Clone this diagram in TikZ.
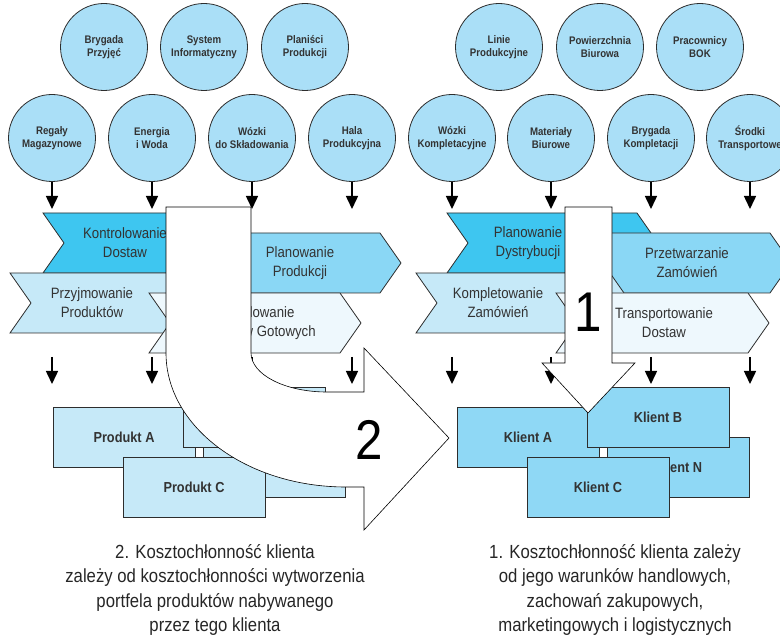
\documentclass[tikz,border=0pt]{standalone}
\usepackage{fontspec}
\setmainfont{Liberation Sans}[FakeStretch=0.88]
\usepackage{tikz}
\usetikzlibrary{arrows.meta, positioning}
\definecolor{resfill}{RGB}{170, 223, 247}
\definecolor{outline}{RGB}{45, 45, 45}
\definecolor{chevdark}{RGB}{62, 198, 240}
\definecolor{chevmid}{RGB}{138, 215, 245}
\definecolor{chevlight}{RGB}{198, 233, 248}
\definecolor{chevpale}{RGB}{238, 248, 253}
\definecolor{clientfill}{RGB}{143, 216, 245}
\definecolor{productfill}{RGB}{198, 233, 248}
\definecolor{txt}{RGB}{51, 51, 51}
\tikzstyle{resource} = [circle, draw=outline, fill=resfill, minimum size=87pt, inner sep=0pt, align=center, text=txt, line width=0.8pt, font=\fontsize{11}{13.3}\selectfont\bfseries]
\tikzstyle{chev} = [draw=outline, line width=0.8pt]
\tikzstyle{chevlabel} = [align=center, text=txt, font=\fontsize{15}{19}\selectfont]
\tikzstyle{item} = [rectangle, draw=outline, minimum width=142pt, minimum height=60pt, inner sep=0pt, text=txt, line width=0.8pt, font=\fontsize{14.5}{17}\selectfont\bfseries]
\tikzstyle{arrow} = [line width=1.5pt, -{Triangle[width=12pt,length=13pt]}]
\tikzstyle{bigarrow} = [draw=black, fill=white, line width=0.6pt]
\tikzstyle{bignum} = [font=\fontsize{56}{60}\selectfont, text=black]
\tikzstyle{note} = [align=center, text=black!85, font=\fontsize{19}{24.5}\selectfont]

\begin{document}
\begin{tikzpicture}[x=1pt, y=-1pt]
    \clip (0,0) rectangle (780,639);

    % resources, top row
    \node[resource] (brygp) at (104,47) {Brygada\\Przyjęć};
    \node[resource] (sysinf) at (204,47) {System\\Informatyczny};
    \node[resource] (planp) at (305,47) {Planiści\\Produkcji};
    \node[resource] (linie) at (499,47) {Linie\\Produkcyjne};
    \node[resource] (powb) at (600,47) {Powierzchnia\\Biurowa};
    \node[resource] (prbok) at (700,47) {Pracownicy\\BOK};

    % resources, bottom row
    \node[resource] (regm) at (52,138) {Regały\\Magazynowe};
    \node[resource] (enw) at (152,138) {Energia\\i Woda};
    \node[resource] (wozs) at (252,138) {Wózki\\do Składowania};
    \node[resource] (halap) at (352,138) {Hala\\Produkcyjna};
    \node[resource] (wozk) at (452,138) {Wózki\\Kompletacyjne};
    \node[resource] (matb) at (551,138) {Materiały\\Biurowe};
    \node[resource] (brygk) at (651,138) {Brygada\\Kompletacji};
    \node[resource] (srtr) at (750,138) {Środki\\Transportowe};

    % resources -> activities
    \coordinate (a1) at (52,209);
    \coordinate (a2) at (152,209);
    \coordinate (a3) at (252,209);
    \coordinate (a4) at (352,209);
    \coordinate (a5) at (452,209);
    \coordinate (a6) at (551,209);
    \coordinate (a7) at (651,209);
    \coordinate (a8) at (750,209);
    \draw[arrow] (regm.south) -- (a1);
    \draw[arrow] (enw.south) -- (a2);
    \draw[arrow] (wozs.south) -- (a3);
    \draw[arrow] (halap.south) -- (a4);
    \draw[arrow] (wozk.south) -- (a5);
    \draw[arrow] (matb.south) -- (a6);
    \draw[arrow] (brygk.south) -- (a7);
    \draw[arrow] (srtr.south) -- (a8);

    % activities, left group
    \draw[chev, fill=chevdark] (43,213) -- (233,213) -- (254,243) -- (233,273) -- (43,273) -- (64,243) -- cycle;
    \node[chevlabel] (kontrol) at (125,243) {Kontrolowanie\\Dostaw};
    \draw[chev, fill=chevmid] (188,233) -- (380,233) -- (401,263) -- (380,293) -- (188,293) -- (209,263) -- cycle;
    \node[chevlabel] (planprod) at (300,263) {Planowanie\\Produkcji};
    \draw[chev, fill=chevlight] (10,273) -- (202,273) -- (223,303) -- (202,333) -- (10,333) -- (31,303) -- cycle;
    \node[chevlabel] (przyjm) at (92,303) {Przyjmowanie\\Produktów};
    \draw[chev, fill=chevpale] (149,293) -- (340,293) -- (361,323) -- (340,353) -- (149,353) -- (170,323) -- cycle;
    \node[chevlabel] (sklad) at (257,323) {Składowanie\\Wyrobów Gotowych};

    % activities, right group
    \draw[chev, fill=chevdark] (447,213) -- (637,213) -- (658,243) -- (637,273) -- (447,273) -- (468,243) -- cycle;
    \node[chevlabel] (plandyst) at (528,243) {Planowanie\\Dystrybucji};
    \draw[chev, fill=chevmid] (578,233) -- (770,233) -- (791,263) -- (770,293) -- (578,293) -- (599,263) -- cycle;
    \node[chevlabel] (przetw) at (687,263) {Przetwarzanie\\Zamówień};
    \draw[chev, fill=chevlight] (416,273) -- (610,273) -- (631,303) -- (610,333) -- (416,333) -- (437,303) -- cycle;
    \node[chevlabel] (kompl) at (498,303) {Kompletowanie\\Zamówień};
    \draw[chev, fill=chevpale] (556,293) -- (748,293) -- (769,323) -- (748,353) -- (556,353) -- (577,323) -- cycle;
    \node[chevlabel] (transp) at (664,323) {Transportowanie\\Dostaw};

    % activities -> cost objects
    \coordinate (p1) at (52,357);  \coordinate (q1) at (52,384);
    \coordinate (p2) at (152,357); \coordinate (q2) at (152,384);
    \coordinate (p3) at (252,357); \coordinate (q3) at (252,384);
    \coordinate (p4) at (352,357); \coordinate (q4) at (352,384);
    \coordinate (p5) at (452,357); \coordinate (q5) at (452,384);
    \coordinate (p6) at (551,357); \coordinate (q6) at (551,384);
    \coordinate (p7) at (651,357); \coordinate (q7) at (651,384);
    \coordinate (p8) at (750,357); \coordinate (q8) at (750,384);
    \draw[arrow] (p1) -- (q1);
    \draw[arrow] (p2) -- (q2);
    \draw[arrow] (p3) -- (q3);
    \draw[arrow] (p4) -- (q4);
    \draw[arrow] (p5) -- (q5);
    \draw[arrow] (p6) -- (q6);
    \draw[arrow] (p7) -- (q7);
    \draw[arrow] (p8) -- (q8);

    % products
    \node[item, fill=productfill] (proda) at (124,437) {Produkt A};
    \node[item, fill=productfill] (prodn) at (274,467) {Produkt N};
    \node[item, fill=productfill] (prodb) at (254,417) {Produkt B};
    \node[item, fill=productfill] (prodc) at (194,487) {Produkt C};

    % clients
    \node[item, fill=clientfill] (klia) at (528,437) {Klient A};
    \node[item, fill=clientfill] (klin) at (678,467) {Klient N};
    \node[item, fill=clientfill] (klib) at (658,417) {Klient B};
    \node[item, fill=clientfill] (klic) at (598,487) {Klient C};

    % big arrows
    \draw[bigarrow] (166,207) -- (251,207) -- (251,353)
        arc[start angle=180, end angle=270, x radius=76pt, y radius=39pt]
        -- (364,392) -- (364,348) -- (449,438) -- (364,530) -- (364,487) -- (346,487)
        arc[start angle=270, end angle=180, x radius=180pt, y radius=134pt] -- cycle;
    \node[bignum] (num2) at (369,440) {2};
    \draw[bigarrow] (565,207) -- (612,207) -- (612,363) -- (635,363) -- (588,413) -- (542,363) -- (565,363) -- cycle;
    \node[bignum] (num1) at (588,312) {1};

    % notes
    \node[note] (note2) at (215,590) {2. Kosztochłonność klienta\\zależy od kosztochłonności wytworzenia\\portfela produktów nabywanego\\przez tego klienta};
    \node[note] (note1) at (615,590) {1. Kosztochłonność klienta zależy\\od jego warunków handlowych,\\zachowań zakupowych,\\marketingowych i logistycznych};
\end{tikzpicture}
\end{document}
